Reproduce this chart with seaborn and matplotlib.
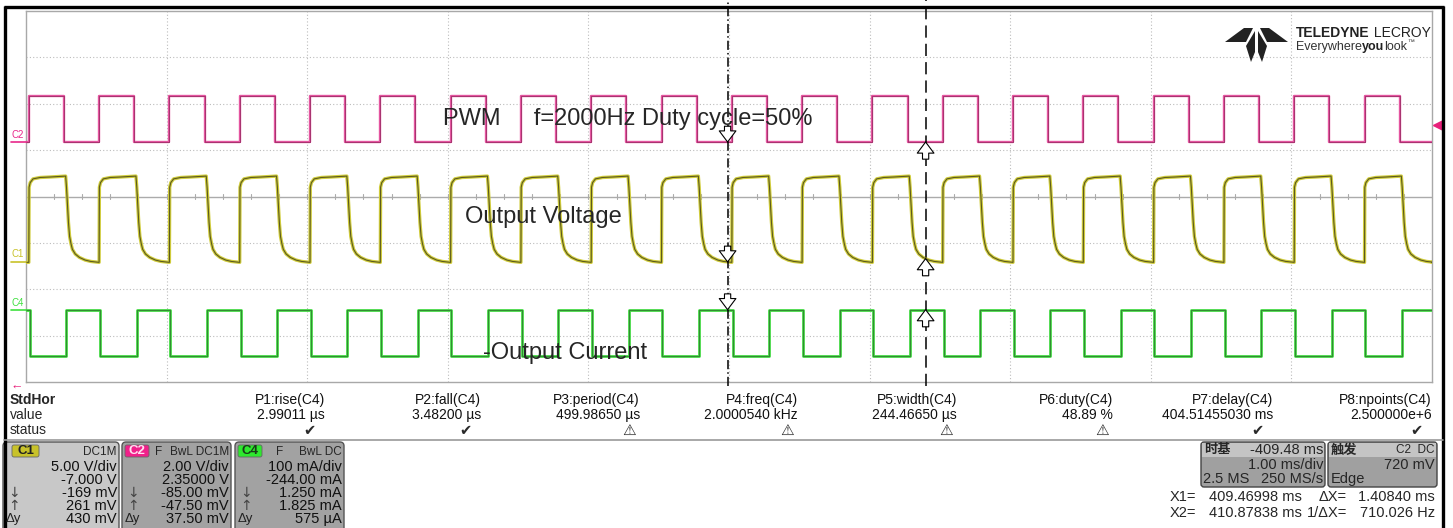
import numpy as np
import pandas as pd
import matplotlib
matplotlib.use('Agg')
import matplotlib.pyplot as plt
from matplotlib.patches import Rectangle, FancyBboxPatch, Polygon
import seaborn as sns

sns.set_theme(style='white')
plt.rcParams['font.family'] = ['Liberation Sans', 'Noto Sans CJK SC', 'DejaVu Sans']

W, H = 1453, 528

# ============================================================
# 波形数据（从截图读取）
# ============================================================
# 每个周期的起点 = PWM 上升沿 (ms, 屏幕左端为 0)
CYCLE_START_MS = [0.02, 0.52, 1.02, 1.52, 2.02, 2.52, 3.02, 3.52, 4.02, 4.52,
                  5.02, 5.52, 6.02, 6.52, 7.02, 7.52, 8.02, 8.52, 9.02, 9.52]

# C2: PWM (相对周期起点的跳变时刻 / 跳变后电平)
PWM_EDGE_MS = [0.0, 0.25]
PWM_LEVEL_V = [1.98, 0.0]

# C4: 输出电流
CUR_EDGE_MS = [0.006, 0.266]
CUR_LEVEL_MA = [-100.0, 0.0]

# C1: 输出电压，一个周期内的波形
VOUT_T_MS = [0.0, 0.002, 0.01, 0.03, 0.08, 0.15, 0.262, 0.268, 0.275, 0.282,
             0.29, 0.30, 0.31, 0.33, 0.36, 0.40, 0.44, 0.498]
VOUT_V = [-0.1, 8.0, 8.5, 8.9, 9.05, 9.1, 9.2, 8.0, 6.0, 4.2,
          2.7, 1.9, 1.3, 0.8, 0.43, 0.15, 0.0, -0.1]

# 通道设置: 每格刻度, 偏移
C1_SCALE, C1_OFFSET = 5.0, -7.0
C2_SCALE, C2_OFFSET = 2.0, 2.35
C4_SCALE, C4_OFFSET = 100.0, -244.0
TRIG_LEVEL_V = 0.72

# 时基 / 光标读数 (ms)
TB_DELAY_MS = 409.48
X1_READ_MS = 409.46998
X2_READ_MS = 410.87838

# 参数测量表
MEAS_NAMES = ['P1:rise(C4)', 'P2:fall(C4)', 'P3:period(C4)', 'P4:freq(C4)',
              'P5:width(C4)', 'P6:duty(C4)', 'P7:delay(C4)', 'P8:npoints(C4)']
MEAS_VALUES = ['2.99011 µs', '3.48200 µs', '499.98650 µs', '2.0000540 kHz',
               '244.46650 µs', '48.89 %', '404.51455030 ms', '2.500000e+6']
MEAS_OK = [True, True, False, False, False, False, True, True]

# 通道信息框
CH_NAMES = ['C1', 'C2', 'C4']
CH_HEADER = ['DC1M', 'BwL DC1M', 'BwL DC']
CH_ROWS = [['5.00 V/div', '-7.000 V', '-169 mV', '261 mV', '430 mV'],
           ['2.00 V/div', '2.35000 V', '-85.00 mV', '-47.50 mV', '37.50 mV'],
           ['100 mA/div', '-244.00 mA', '1.250 mA', '1.825 mA', '575 µA']]

C1_COL, C2_COL, C4_COL = '#c8c22a', '#e8288a', '#3ee03e'


def step_trace(starts, edges, levels, init):
    t, v, cur = [0.0], [init], init
    for s in starts:
        for e, lv in zip(edges, levels):
            t += [s + e, s + e]
            v += [cur, lv]
            cur = lv
    t.append(10.0)
    v.append(cur)
    return np.array(t), np.array(v)


def shape_trace(starts, t_rel, vals, init):
    t, v = [0.0], [init]
    for s in starts:
        t += [s + x for x in t_rel]
        v += list(vals)
    t.append(10.0)
    v.append(v[-1])
    return np.array(t), np.array(v)


def draw_trace(ax, t, y, halo, core, lw_h, lw_c):
    df = pd.DataFrame({'t': t, 'y': y})
    sns.lineplot(data=df, x='t', y='y', ax=ax, estimator=None, sort=False,
                 color=halo, lw=lw_h, zorder=3)
    sns.lineplot(data=df, x='t', y='y', ax=ax, estimator=None, sort=False,
                 color=core, lw=lw_c, zorder=4)


fig = plt.figure(figsize=(W / 100, H / 100), dpi=100)
fig.patch.set_facecolor('white')

# 示波器波形区
L, R, T, B = 26, 1432, 11, 382
ax = fig.add_axes([L / W, 1 - B / H, (R - L) / W, (B - T) / H])
ax.set_xlim(0, 10)
ax.set_ylim(-4, 4)
ax.set_xticks([]); ax.set_yticks([])
for sp in ax.spines.values():
    sp.set_color('#a8a8a8'); sp.set_linewidth(1)
for gx in range(1, 10):
    ax.axvline(gx, color='#bcbcbc', lw=0.8, ls=(0, (1, 2)), zorder=1)
for gy in range(-3, 4):
    if gy == 0:
        ax.axhline(0, color='#ababab', lw=1.0, zorder=1)
    else:
        ax.axhline(gy, color='#bcbcbc', lw=0.8, ls=(0, (1, 2)), zorder=1)
# 中心线刻度
for tx in np.arange(0.2, 10, 0.2):
    ax.plot([tx, tx], [-0.05, 0.05], color='#ababab', lw=0.8, zorder=1)

t2, v2 = step_trace(CYCLE_START_MS, PWM_EDGE_MS, PWM_LEVEL_V, 0.0)
t4, v4 = step_trace(CYCLE_START_MS, CUR_EDGE_MS, CUR_LEVEL_MA, 0.0)
t1, v1 = shape_trace(CYCLE_START_MS, VOUT_T_MS, VOUT_V, -0.1)
d2 = (v2 + C2_OFFSET) / C2_SCALE
d4 = (v4 + C4_OFFSET) / C4_SCALE
d1 = (v1 + C1_OFFSET) / C1_SCALE

draw_trace(ax, t2, d2, '#e455a0', '#a8336f', 1.7, 0.7)
draw_trace(ax, t1, d1, '#d0cc3c', '#5c5a1e', 2.4, 0.8)
draw_trace(ax, t4, d4, '#45d845', '#2f7f2f', 2.0, 0.6)
ax.set_xlabel(''); ax.set_ylabel('')

# 光标
x1 = X1_READ_MS - TB_DELAY_MS + 5
x2 = X2_READ_MS - TB_DELAY_MS + 5
ax.plot([x1, x1], [-4.08, 4.24], color='black', lw=1.1, ls=(0, (6, 2, 1, 2)),
        zorder=5, clip_on=False)
ax.plot([x2, x2], [-4.08, 4.24], color='black', lw=1.1, ls=(0, (8, 4)),
        zorder=5, clip_on=False)
arrow = dict(arrowstyle='simple,head_length=0.5,head_width=0.75,tail_width=0.28',
             fc='white', ec='black', lw=0.8, mutation_scale=16, shrinkA=0, shrinkB=0)
for tt, dd in [(t2, d2), (t1, d1), (t4, d4)]:
    y1 = np.interp(x1, tt, dd)
    y2 = np.interp(x2, tt, dd)
    ax.annotate('', xy=(x1, y1), xytext=(x1, y1 + 0.34), arrowprops=arrow, zorder=6)
    ax.annotate('', xy=(x2, y2), xytext=(x2, y2 - 0.37), arrowprops=arrow, zorder=6)

# 触发电平标记
trig_div = (TRIG_LEVEL_V + C2_OFFSET) / C2_SCALE
ax.plot([10.04], [trig_div], marker='<', ms=7, color='#e8207a', clip_on=False, zorder=6)

# ============================================================
# 画面其余部分（像素坐标）
# ============================================================
ov = fig.add_axes([0, 0, 1, 1], zorder=10)
ov.set_xlim(0, W); ov.set_ylim(H, 0)
ov.axis('off')
ov.patch.set_alpha(0)

# 波形注释文字
ov.text(443, 119, 'PWM     f=2000Hz Duty cycle=50%', fontsize=17, ha='left', va='center')
ov.text(465, 217, 'Output Voltage', fontsize=17, ha='left', va='center')
ov.text(483, 353, '-Output Current', fontsize=17, ha='left', va='center')

# 通道标记
for name, off, sc, col in [('C2', C2_OFFSET, C2_SCALE, C2_COL),
                           ('C1', C1_OFFSET, C1_SCALE, C1_COL),
                           ('C4', C4_OFFSET, C4_SCALE, C4_COL)]:
    yp = 197 - off / sc * 46.4
    ov.text(11, yp - 2.5, name, fontsize=7, color=col, ha='left', va='bottom')
    ov.plot([11, 26], [yp, yp], color=col, lw=1.2)
ov.text(17, 387, '←', fontsize=9, color='#e8207a', ha='center', va='center')

# 黑色外框
ov.plot([4, 1444], [7, 7], color='black', lw=2.4, solid_capstyle='butt')
ov.plot([4.5, 4.5], [6, H], color='black', lw=2.4, solid_capstyle='butt')
ov.plot([1443, 1443], [6, H], color='black', lw=2.4, solid_capstyle='butt')

# Logo
logo = [[(1225, 42), (1244, 28), (1253, 28), (1246, 42)],
        [(1288, 42), (1269, 28), (1260, 28), (1267, 42)],
        [(1255, 31), (1255, 52), (1251, 62), (1246, 46)],
        [(1258, 31), (1258, 52), (1262, 62), (1267, 46)]]
for pts in logo:
    ov.add_patch(Polygon(pts, closed=True, color='#222222', lw=0))
t_a = ov.text(1296, 33, 'TELEDYNE', fontsize=10, fontweight='bold', color='#222222',
              ha='left', va='center')
ov.annotate(' LECROY', xy=(1, 0), xycoords=t_a, va='bottom', fontsize=10, color='#222222')
t_b = ov.text(1296, 47, 'Everywhere', fontsize=9, color='#333333', ha='left', va='center')
t_c = ov.annotate('you', xy=(1, 0), xycoords=t_b, va='bottom', fontsize=9,
                  fontweight='bold', color='#222222')
t_d = ov.annotate('look', xy=(1, 0), xycoords=t_c, va='bottom', fontsize=9, color='#333333')
ov.annotate('™', xy=(1, 0.6), xycoords=t_d, va='bottom', fontsize=5, color='#333333')

# 参数测量表
ov.text(10, 400, 'StdHor', fontsize=10, fontweight='bold', ha='left', va='center')
ov.text(10, 415, 'value', fontsize=10, ha='left', va='center')
ov.text(10, 430, 'status', fontsize=10, ha='left', va='center')
col_right = [325, 481, 640, 798, 957, 1113, 1273, 1432]
for xr, nm, val, ok in zip(col_right, MEAS_NAMES, MEAS_VALUES, MEAS_OK):
    ov.text(xr, 400, nm, fontsize=10, ha='right', va='center', color='#111111')
    ov.text(xr, 415, val, fontsize=10, ha='right', va='center', color='#111111')
    if ok:
        ov.text(xr - 16, 431, '✔', fontsize=10.5, ha='center', va='center', color='#2a2a2a',
                family=['DejaVu Sans'])
    else:
        ov.text(xr - 11, 430, '⚠', fontsize=11, ha='center', va='center', color='#2a2a2a',
                family=['DejaVu Sans'])
ov.plot([4, 1443], [439.5, 439.5], color='#9a9a9a', lw=1.2)

# 通道信息框
box_x = [3, 122, 235]
box_w = [116, 109, 109]
box_fill = ['#c8c8c8', '#a2a2a2', '#a2a2a2']
badge_col = [C1_COL, '#f0208a', '#2ee82e']
badge_txt = ['#222222', '#ffe0f0', '#1a3a1a']
row_y = [467, 480, 493, 506, 519]
for i in range(3):
    bx, bw = box_x[i], box_w[i]
    ov.add_patch(FancyBboxPatch((bx, 442), bw, 95, boxstyle='round,pad=0,rounding_size=4',
                                fc=box_fill[i], ec='#555555', lw=1))
    ov.add_patch(FancyBboxPatch((bx + 9 if i == 0 else bx + 3, 445), 27 if i == 0 else 24, 12,
                                boxstyle='round,pad=0,rounding_size=2',
                                fc=badge_col[i], ec='#666666', lw=0.6))
    cx = bx + 22.5 if i == 0 else bx + 15
    ov.text(cx, 451.5, CH_NAMES[i], fontsize=9.5, fontweight='bold', color=badge_txt[i],
            ha='center', va='center')
    ov.text(bx + bw - 2, 452, CH_HEADER[i], fontsize=8.5, ha='right', va='center')
    if i > 0:
        ov.text(bx + 33 if i == 1 else bx + 41, 452, 'F', fontsize=8.5, ha='left', va='center')
    for yy, s in zip(row_y, CH_ROWS[i]):
        ov.text(bx + bw - 2, yy, s, fontsize=10.5, ha='right', va='center', color='#111111')
    ov.text(bx + 5, 493, '↓', fontsize=10, ha='left', va='center', color='#444444',
            family=['DejaVu Sans'])
    ov.text(bx + 5, 506, '↑', fontsize=10, ha='left', va='center', color='#444444',
            family=['DejaVu Sans'])
    ov.text(bx + 3, 519, 'Δy', fontsize=9.5, ha='left', va='center', color='#222222')

# 时基 / 触发
ov.add_patch(FancyBboxPatch((1201, 442), 124, 45, boxstyle='round,pad=0,rounding_size=3',
                            fc='#a0a0a0', ec='#444444', lw=1))
ov.add_patch(Rectangle((1202, 443), 122, 14, fc='#c4c4c4', lw=0))
ov.add_patch(FancyBboxPatch((1328, 442), 109, 45, boxstyle='round,pad=0,rounding_size=3',
                            fc='#a0a0a0', ec='#444444', lw=1))
ov.add_patch(Rectangle((1329, 443), 107, 14, fc='#c4c4c4', lw=0))
ov.text(1204, 450, '时基', fontsize=9.5, fontweight='bold', ha='left', va='center')
ov.text(1323, 450, f'-{TB_DELAY_MS:.2f} ms', fontsize=10.5, ha='right', va='center')
ov.text(1323, 465, '1.00 ms/div', fontsize=10.5, ha='right', va='center')
ov.text(1203, 479, '2.5 MS', fontsize=10.5, ha='left', va='center')
ov.text(1323, 479, '250 MS/s', fontsize=10.5, ha='right', va='center')
ov.text(1331, 450, '触发', fontsize=9.5, fontweight='bold', ha='left', va='center')
ov.text(1435, 450, 'C2  DC', fontsize=8.5, ha='right', va='center')
ov.text(1435, 465, f'{TRIG_LEVEL_V * 1000:.0f} mV', fontsize=10.5, ha='right', va='center')
ov.text(1331, 479, 'Edge', fontsize=10.5, ha='left', va='center')

# 光标读数
dx = X2_READ_MS - X1_READ_MS
ov.text(1170, 497, 'X1=', fontsize=10.5, ha='left', va='center')
ov.text(1302, 497, f'{X1_READ_MS:.5f} ms', fontsize=10.5, ha='right', va='center')
ov.text(1347, 497, 'ΔX=', fontsize=10.5, ha='right', va='center')
ov.text(1435, 497, f'{dx:.5f} ms', fontsize=10.5, ha='right', va='center')
ov.text(1170, 513, 'X2=', fontsize=10.5, ha='left', va='center')
ov.text(1302, 513, f'{X2_READ_MS:.5f} ms', fontsize=10.5, ha='right', va='center')
ov.text(1347, 513, '1/ΔX=', fontsize=10.5, ha='right', va='center')
ov.text(1435, 513, f'{1000 / dx:.3f} Hz', fontsize=10.5, ha='right', va='center')

fig.savefig('out.png', dpi=100)
